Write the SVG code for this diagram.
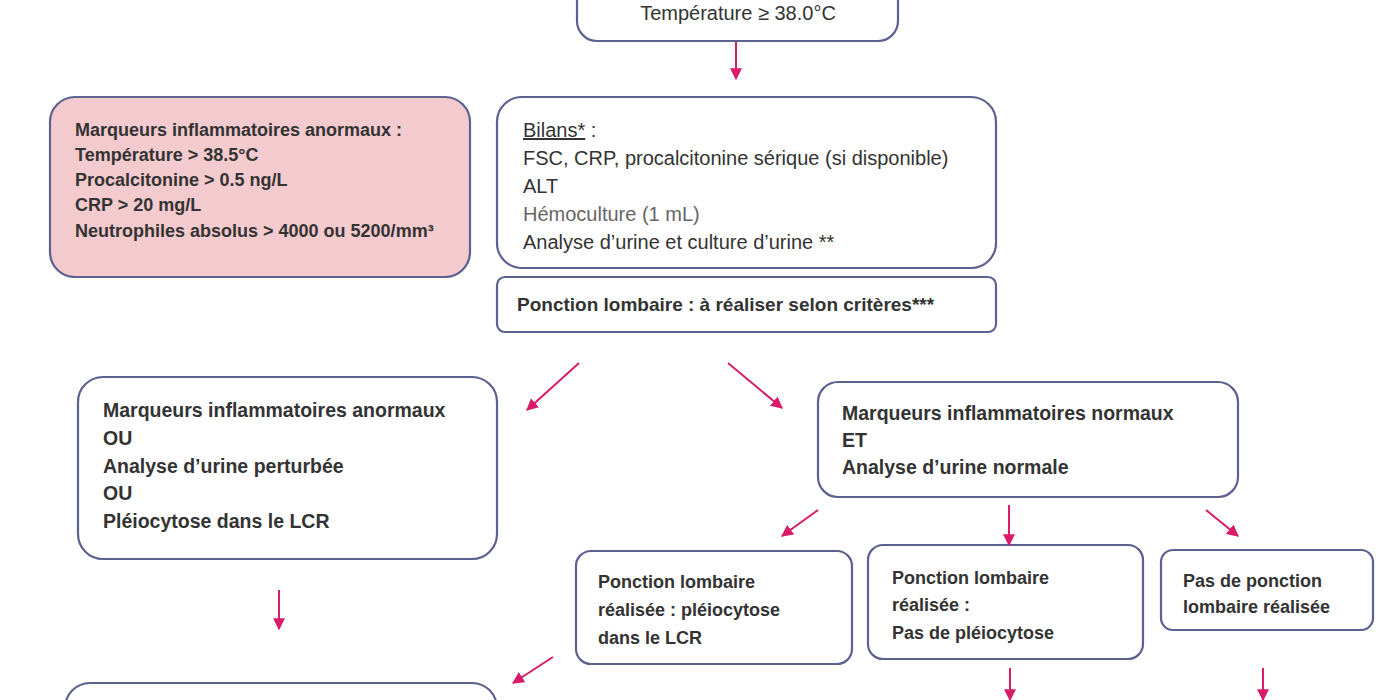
<svg xmlns="http://www.w3.org/2000/svg" width="1400" height="700" viewBox="0 0 1400 700">
<defs>
<marker id="ah" viewBox="0 0 10 10" refX="9" refY="5" markerWidth="12" markerHeight="12" markerUnits="userSpaceOnUse" orient="auto">
<path d="M0,0 L10,5 L0,10 z" fill="#d81b6a"/>
</marker>
</defs>
<style>
.box{fill:#ffffff;stroke:#5c6190;stroke-width:2.2}
.pink{fill:#f3cacd;stroke:#5c6190;stroke-width:2.2}
.t{font-family:"Liberation Sans",Arial,sans-serif;fill:#333333}
.n{font-size:20px;font-weight:400}
.b{font-size:18px;font-weight:700}
.bl{font-size:19.5px;font-weight:700}
.bp{font-size:19px;font-weight:700}
.arr{stroke:#d81b6a;stroke-width:2;fill:none;marker-end:url(#ah)}
</style>
<rect x="0" y="0" width="1400" height="700" fill="#ffffff"/>

<g id="n-temp">
<rect class="box" x="577" y="-30" width="321" height="71" rx="20"/>
<text class="t n" x="738" y="20" text-anchor="middle">Température ≥ 38.0°C</text>
</g>

<g id="n-marqueurs">
<rect class="pink" x="50" y="97" width="420" height="180" rx="25"/>
<text class="t b">
<tspan x="75" y="136">Marqueurs inflammatoires  anormaux :</tspan>
<tspan x="75" y="161">Température &gt; 38.5°C</tspan>
<tspan x="75" y="186">Procalcitonine &gt; 0.5 ng/L</tspan>
<tspan x="75" y="211">CRP &gt; 20 mg/L</tspan>
<tspan x="75" y="237">Neutrophiles absolus &gt; 4000 ou 5200/mm³</tspan>
</text>
</g>

<g id="n-bilans">
<rect class="box" x="497" y="97" width="499" height="171" rx="25"/>
<text class="t n">
<tspan x="523" y="137"><tspan text-decoration="underline">Bilans*</tspan> :</tspan>
<tspan x="523" y="165">FSC, CRP, procalcitonine sérique (si disponible)</tspan>
<tspan x="523" y="193">ALT</tspan>
<tspan x="523" y="221" fill="#666666">Hémoculture (1 mL)</tspan>
<tspan x="523" y="249">Analyse d’urine et culture d’urine **</tspan>
</text>
</g>

<g id="n-ponction">
<rect class="box" x="497" y="277" width="499" height="55" rx="8"/>
<text class="t bp" x="517" y="311">Ponction lombaire : à réaliser selon critères***</text>
</g>

<g id="n-anormaux">
<rect class="box" x="78" y="377" width="419" height="182" rx="25"/>
<text class="t bl">
<tspan x="103" y="417">Marqueurs inflammatoires anormaux</tspan>
<tspan x="103" y="445">OU</tspan>
<tspan x="103" y="473">Analyse d’urine perturbée</tspan>
<tspan x="103" y="500">OU</tspan>
<tspan x="103" y="528">Pléiocytose dans le LCR</tspan>
</text>
</g>

<g id="n-normaux">
<rect class="box" x="818" y="382" width="420" height="115" rx="20"/>
<text class="t bl">
<tspan x="842" y="420">Marqueurs inflammatoires normaux</tspan>
<tspan x="842" y="447">ET</tspan>
<tspan x="842" y="474">Analyse d’urine normale</tspan>
</text>
</g>

<g id="n-pl-pleio">
<rect class="box" x="576" y="551" width="276" height="113" rx="15"/>
<text class="t b">
<tspan x="598" y="588">Ponction lombaire</tspan>
<tspan x="598" y="616">réalisée : pléiocytose</tspan>
<tspan x="598" y="644">dans le LCR</tspan>
</text>
</g>

<g id="n-pl-nopleio">
<rect class="box" x="868" y="545" width="275" height="114" rx="15"/>
<text class="t b">
<tspan x="892" y="584">Ponction lombaire</tspan>
<tspan x="892" y="611">réalisée :</tspan>
<tspan x="892" y="639">Pas de pléiocytose</tspan>
</text>
</g>

<g id="n-no-pl">
<rect class="box" x="1161" y="550" width="212" height="80" rx="12"/>
<text class="t b">
<tspan x="1183" y="587">Pas de ponction</tspan>
<tspan x="1183" y="613">lombaire réalisée</tspan>
</text>
</g>

<g id="n-bottom-left">
<rect class="box" x="65" y="683" width="432" height="60" rx="25"/>
</g>

<g id="connectors">
<line class="arr" x1="736" y1="42" x2="736" y2="79"/>
<line class="arr" x1="579" y1="363" x2="527" y2="410"/>
<line class="arr" x1="728" y1="363" x2="782" y2="408"/>
<line class="arr" x1="818" y1="510" x2="782" y2="536"/>
<line class="arr" x1="1009" y1="505" x2="1009" y2="545"/>
<line class="arr" x1="1206" y1="510" x2="1238" y2="536"/>
<line class="arr" x1="279" y1="590" x2="279" y2="629"/>
<line class="arr" x1="553" y1="657" x2="513" y2="683"/>
<line class="arr" x1="1010" y1="668" x2="1010" y2="700"/>
<line class="arr" x1="1263" y1="668" x2="1263" y2="700"/>
</g>
</svg>
